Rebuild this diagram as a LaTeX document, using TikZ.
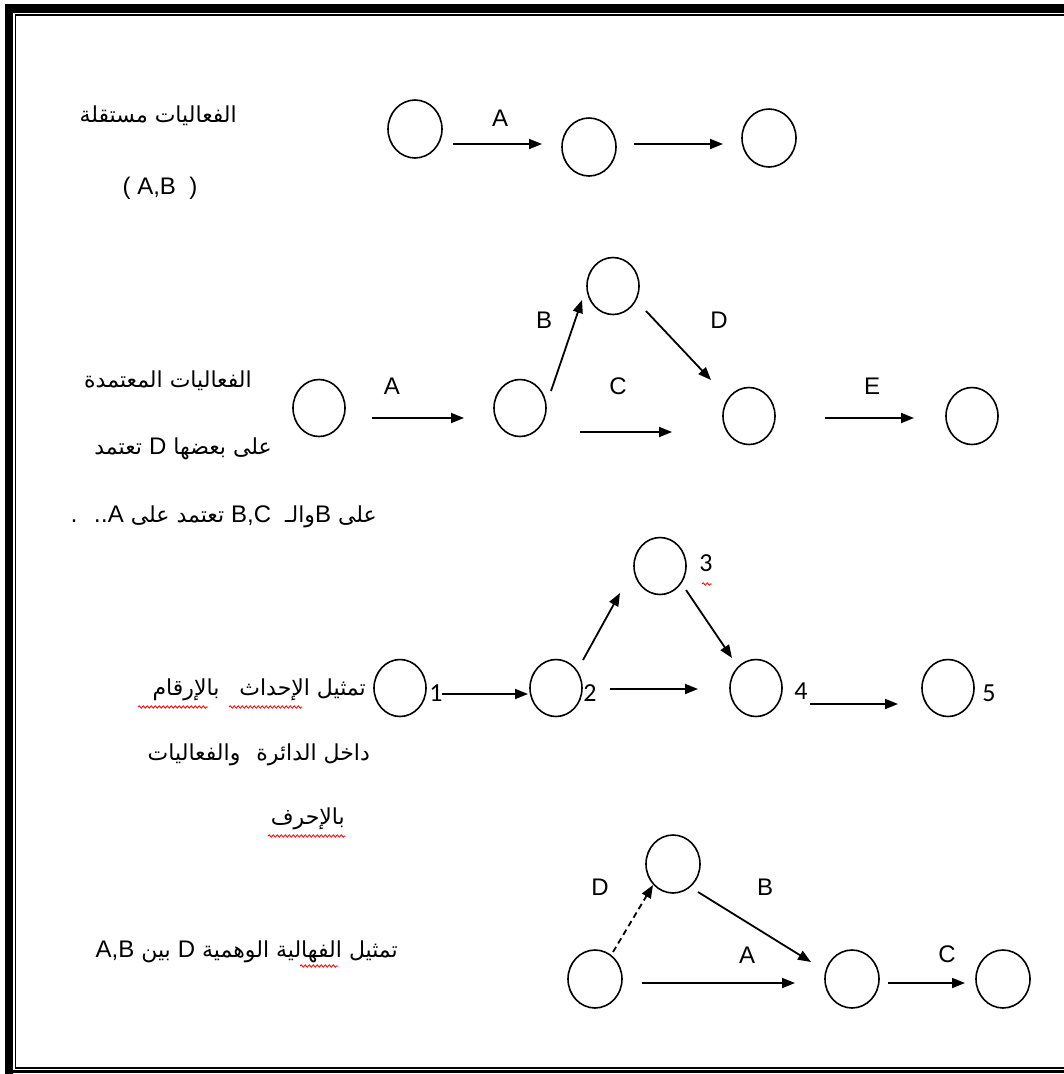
\documentclass[tikz,border=0pt]{standalone}
\usepackage{fontspec}
\usetikzlibrary{arrows.meta,shapes.geometric,decorations.pathmorphing}
\TeXXeTstate=1
\newfontfamily\arabicfont[Script=Arabic]{DejaVu Sans}
\newfontfamily\latinfont{Liberation Sans}
\newfontfamily\digitfont{Carlito}
\newcommand\latw[1]{{\latinfont\fontsize{24}{28}\selectfont\beginL #1\endL}}
\begin{document}
\begin{tikzpicture}[x=1pt,y=-1pt,
  ev/.style={draw,ellipse,line width=1.6pt,minimum width=54pt,minimum height=58pt,inner sep=0pt},
  evt/.style={ev,minimum width=52pt,minimum height=57pt},
  arr/.style={line width=1.8pt,-{Triangle[length=13pt,width=10pt]}},
  lbl/.style={font=\latinfont\fontsize{24}{28}\selectfont,inner sep=0pt},
  num/.style={font=\digitfont\fontsize{26}{30}\selectfont,inner sep=0pt},
  ar/.style={font=\arabicfont\fontsize{22}{26}\selectfont,inner sep=0pt,anchor=east},
  wavy/.style={red,line width=0.8pt,decorate,decoration={snake,segment length=4pt,amplitude=1.2pt}}]
\useasboundingbox (0,0) rectangle (1064,1074);
\fill[white] (0,0) rectangle (1064,1074);
\fill (5,4) rectangle (1064,12.7);
\fill (5,4) rectangle (13.3,1074);
\fill (5,1070) rectangle (1064,1072.7);
\draw[line width=1.5pt] (1064,14.8) -- (15.7,14.8) -- (15.7,1068.2) -- (1064,1068.2);

\node[ev] (r1a) at (415,129) {};
\node[ev] (r1b) at (589,147) {};
\node[ev] (r1c) at (769,138) {};
\coordinate (r1as) at (453,144);
\coordinate (r1ae) at (542,144);
\coordinate (r1bs) at (634,144);
\coordinate (r1be) at (723,144);
\draw[arr] (r1as) -- (r1ae);
\draw[arr] (r1bs) -- (r1be);
\node[lbl] (r1A) at (500,118) {A};
\node[ar] (r1t) at (237,116) {\beginR الفعاليات مستقلة\endR};
\node[lbl] (r1p) at (160,188) {( A,B\ \ )};

\node[evt] (r2a) at (319,408) {};
\node[evt] (r2b) at (520,408) {};
\node[evt] (r2c) at (613,286) {};
\node[evt] (r2d) at (749,416) {};
\node[evt] (r2e) at (972,416) {};
\coordinate (r2as) at (372,418);
\coordinate (r2ae) at (464,418);
\coordinate (r2bs) at (551,391);
\coordinate (r2be) at (582,300);
\coordinate (r2cs) at (580,432);
\coordinate (r2ce) at (672,432);
\coordinate (r2ds) at (646,311);
\coordinate (r2de) at (711,380);
\coordinate (r2es) at (825,418);
\coordinate (r2ee) at (914,418);
\draw[arr] (r2as) -- (r2ae);
\draw[arr] (r2bs) -- (r2be);
\draw[arr] (r2cs) -- (r2ce);
\draw[arr] (r2ds) -- (r2de);
\draw[arr] (r2es) -- (r2ee);
\node[lbl] (r2A) at (392,386) {A};
\node[lbl] (r2B) at (544,320) {B};
\node[lbl] (r2C) at (618,386) {C};
\node[lbl] (r2D) at (719,320) {D};
\node[lbl] (r2E) at (872,386) {E};
\node[ar] (r2t1) at (252,381) {\beginR الفعاليات المعتمدة\endR};
\node[ar] (r2t2) at (272,449) {\beginR على بعضها \latw{D} تعتمد\endR};
\node[ar] (r2t3) at (377,517) {\beginR على \latw{B}والـ \ \latw{B,C} تعتمد على \latw{A}.. \ .\endR};

\node[evt] (r3a) at (400,688) {};
\node[evt] (r3b) at (556,688) {};
\node[evt] (r3c) at (660,566) {};
\node[evt] (r3d) at (756,688) {};
\node[evt] (r3e) at (948,688) {};
\coordinate (r3as) at (442,694);
\coordinate (r3ae) at (528,694);
\coordinate (r3bs) at (583,660);
\coordinate (r3be) at (620,593);
\coordinate (r3cs) at (686,590);
\coordinate (r3ce) at (732,658);
\coordinate (r3ds) at (610,689);
\coordinate (r3de) at (698,689);
\coordinate (r3es) at (810,704);
\coordinate (r3ee) at (898,704);
\draw[arr] (r3as) -- (r3ae);
\draw[arr] (r3bs) -- (r3be);
\draw[arr] (r3cs) -- (r3ce);
\draw[arr] (r3ds) -- (r3de);
\draw[arr] (r3es) -- (r3ee);
\node[num] (r3n1) at (436,693) {1};
\node[num] (r3n2) at (590,693) {2};
\node[num] (r3n3) at (706,563) {3};
\node[num] (r3n4) at (801,691) {4};
\node[num] (r3n5) at (989,693) {5};
\node[ar] (r3t1) at (366,690) {\beginR تمثيل الإحداث\hspace{20pt}بالإرقام\endR};
\node[ar] (r3t2) at (370,755) {\beginR داخل الدائرة\hspace{16pt}والفعاليات\endR};
\node[ar] (r3t3) at (345,819) {\beginR بالإحرف\endR};
\draw[wavy] (138,707) -- (208,707);
\draw[wavy] (229,707) -- (302,707);
\draw[wavy] (268,836) -- (345,836);
\draw[wavy] (702,584) -- (712,584);

\node[ev] (r4a) at (595,979) {};
\node[ev] (r4b) at (673,864) {};
\node[ev] (r4c) at (852,979) {};
\node[ev] (r4d) at (1003,979) {};
\coordinate (r4ds) at (613,952);
\coordinate (r4de) at (653,885);
\coordinate (r4bs) at (698,892);
\coordinate (r4be) at (811,962);
\coordinate (r4as) at (642,983);
\coordinate (r4ae) at (795,983);
\coordinate (r4cs) at (888,983);
\coordinate (r4ce) at (965,983);
\draw[arr,dash pattern=on 6pt off 4pt] (r4ds) -- (r4de);
\draw[arr] (r4bs) -- (r4be);
\draw[arr] (r4as) -- (r4ae);
\draw[arr] (r4cs) -- (r4ce);
\node[lbl] (r4D) at (600,887) {D};
\node[lbl] (r4B) at (765,887) {B};
\node[lbl] (r4A) at (747,955) {A};
\node[lbl] (r4C) at (947,954) {C};
\node[ar] (r4t) at (398,952) {\beginR تمثيل الفهالية الوهمية \latw{D} بين \latw{A,B}\endR};
\draw[wavy] (300,966) -- (338,966);
\end{tikzpicture}
\end{document}
